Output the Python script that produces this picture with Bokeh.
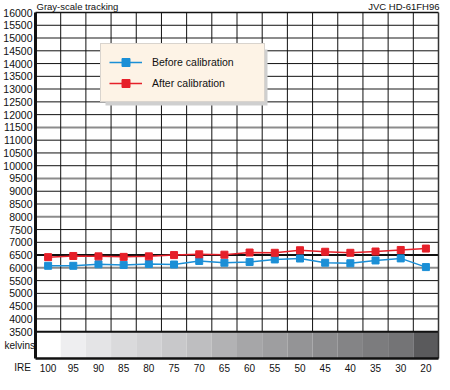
from bokeh.plotting import figure
from bokeh.models import Range1d, Legend, LegendItem, BoxAnnotation, ColumnDataSource
from bokeh.core.properties import value
from bokeh.embed import file_html
from bokeh.resources import INLINE

# ---- data ----
ire_labels = ["100", "95", "90", "85", "80", "75", "70", "65",
              "60", "55", "50", "45", "40", "35", "30", "20"]
before_cal = [6080, 6080, 6140, 6115, 6150, 6130, 6270, 6200,
              6230, 6330, 6365, 6200, 6180, 6290, 6370, 6030]
after_cal = [6420, 6465, 6450, 6430, 6450, 6500, 6530, 6515,
             6600, 6590, 6690, 6630, 6590, 6640, 6700, 6755]
strip_levels = [255, 238, 228, 218, 210, 200, 190, 178,
                166, 158, 148, 140, 132, 124, 116, 90]
y_ticks = list(range(3500, 16001, 500))
gray_grid = [15000, 13000, 11500, 9500, 8000, 6000, 4500]
ref_line = 6500

FONT = "Liberation Sans"
INK = "#111111"
W, H = 442, 374
N = len(ire_labels)
xs = list(range(N))
Y0, Y1 = 2450, 16000          # strip bottom / grid top

# pixel layout of the grid inside the canvas
GL, GR = 35, 438              # grid left / right (px)
GT, GB = 12, 358              # grid top / strip bottom (px)
sx = (GR - GL) / N
sy = (GB - GT) / (Y1 - Y0)

def dx(px):
    return -0.5 + (px - GL) / sx

def dy(py):
    return Y1 - (py - GT) / sy

p = figure(width=W, height=H, output_backend="svg", toolbar_location=None,
           x_range=Range1d(dx(0), dx(W)), y_range=Range1d(dy(H), dy(0)),
           min_border=0)
p.axis.visible = False
p.xgrid.visible = False
p.ygrid.visible = False
p.outline_line_color = None
p.background_fill_color = "white"
p.border_fill_color = "white"

XL, XR = -0.5, N - 0.5

# gray-scale strip
cols = ["#%02x%02x%02x" % (v, v, min(255, v + 2)) for v in strip_levels]
p.quad(left=[x - 0.5 for x in xs], right=[x + 0.5 for x in xs],
       bottom=Y0, top=3500, fill_color=cols, line_color=None)

# grid lines
hy = [t for t in y_ticks if t not in gray_grid and t not in (ref_line, 3500, Y1)]
p.segment(x0=XL, x1=XR, y0=hy, y1=hy, line_color=INK, line_width=1)
p.segment(x0=XL, x1=XR, y0=gray_grid, y1=gray_grid, line_color="#8c8c8c", line_width=2)
vx = [x - 0.5 for x in xs[1:]]
p.segment(x0=vx, x1=vx, y0=3500, y1=Y1, line_color=INK, line_width=1)
p.segment(x0=XL, x1=XR, y0=[ref_line, 3500], y1=[ref_line, 3500],
          line_color=INK, line_width=2)

# series
blue = "#1b8fd6"
red = "#e6202a"
src = ColumnDataSource(dict(x=xs, b=before_cal, a=after_cal))
lb = p.line("x", "b", source=src, line_color=blue, line_width=1.5)
sb = p.scatter("x", "b", source=src, marker="square", size=7,
               fill_color=blue, line_color=blue)
la = p.line("x", "a", source=src, line_color=red, line_width=1.5)
sa = p.scatter("x", "a", source=src, marker="square", size=7,
               fill_color=red, line_color=red)

# frame
p.segment(x0=[XL], x1=[XR], y0=[Y1], y1=[Y1], line_color=INK, line_width=1.5)
p.segment(x0=[XR], x1=[XR], y0=[Y0], y1=[Y1], line_color="#333333", line_width=1.5)
p.segment(x0=[XL], x1=[XR], y0=[Y0], y1=[Y0], line_color=INK, line_width=2.5)
p.segment(x0=[XL], x1=[XL], y0=[Y0], y1=[Y1], line_color=INK, line_width=3)

# tick labels
p.text(x=XL, y=y_ticks, text=[str(t) for t in y_ticks], x_offset=-3,
       text_align="right", text_baseline="middle", text_font=value(FONT),
       text_font_size=value("10.5px"), text_color=INK)
p.text(x=xs, y=dy(367), text=ire_labels, text_align="center",
       text_baseline="middle", text_font=value(FONT),
       text_font_size=value("10px"), text_color=INK)

# other texts
def txt(t, x, y, align, size):
    p.text(x=[x], y=[y], text=[t], text_align=align, text_baseline="middle",
           text_font=value(FONT), text_font_size=value(size), text_color=INK)

txt("Gray-scale tracking", dx(36), dy(6), "left", "9.5px")
txt("JVC HD-61FH96", dx(439), dy(6), "right", "9.5px")
txt("kelvins", dx(34.5), (Y0 + 3500) / 2, "right", "10px")
txt("IRE", dx(22), dy(367), "center", "10px")

# legend shadow + legend
p.add_layout(BoxAnnotation(left=dx(105), right=dx(267), top=dy(49), bottom=dy(105),
                           fill_color="#cfcfcf", fill_alpha=1, line_color=None))

LEG_L, LEG_T, LEG_H = 100, 45, 57
legend = Legend(items=[LegendItem(label="Before calibration", renderers=[lb, sb]),
                       LegendItem(label="After calibration", renderers=[la, sa])],
                location=(LEG_L, H - LEG_T - LEG_H), padding=8, spacing=1,
                glyph_width=33, glyph_height=20, label_height=20, label_width=104,
                label_standoff=10, label_text_font=FONT, label_text_font_size="10.5px",
                label_text_color=INK, background_fill_color="#fdf3e6",
                background_fill_alpha=1, border_line_color="#b5b5b5",
                border_line_width=1.5, margin=0)
p.add_layout(legend, "center")

open("out.html", "w").write(file_html(p, INLINE))
